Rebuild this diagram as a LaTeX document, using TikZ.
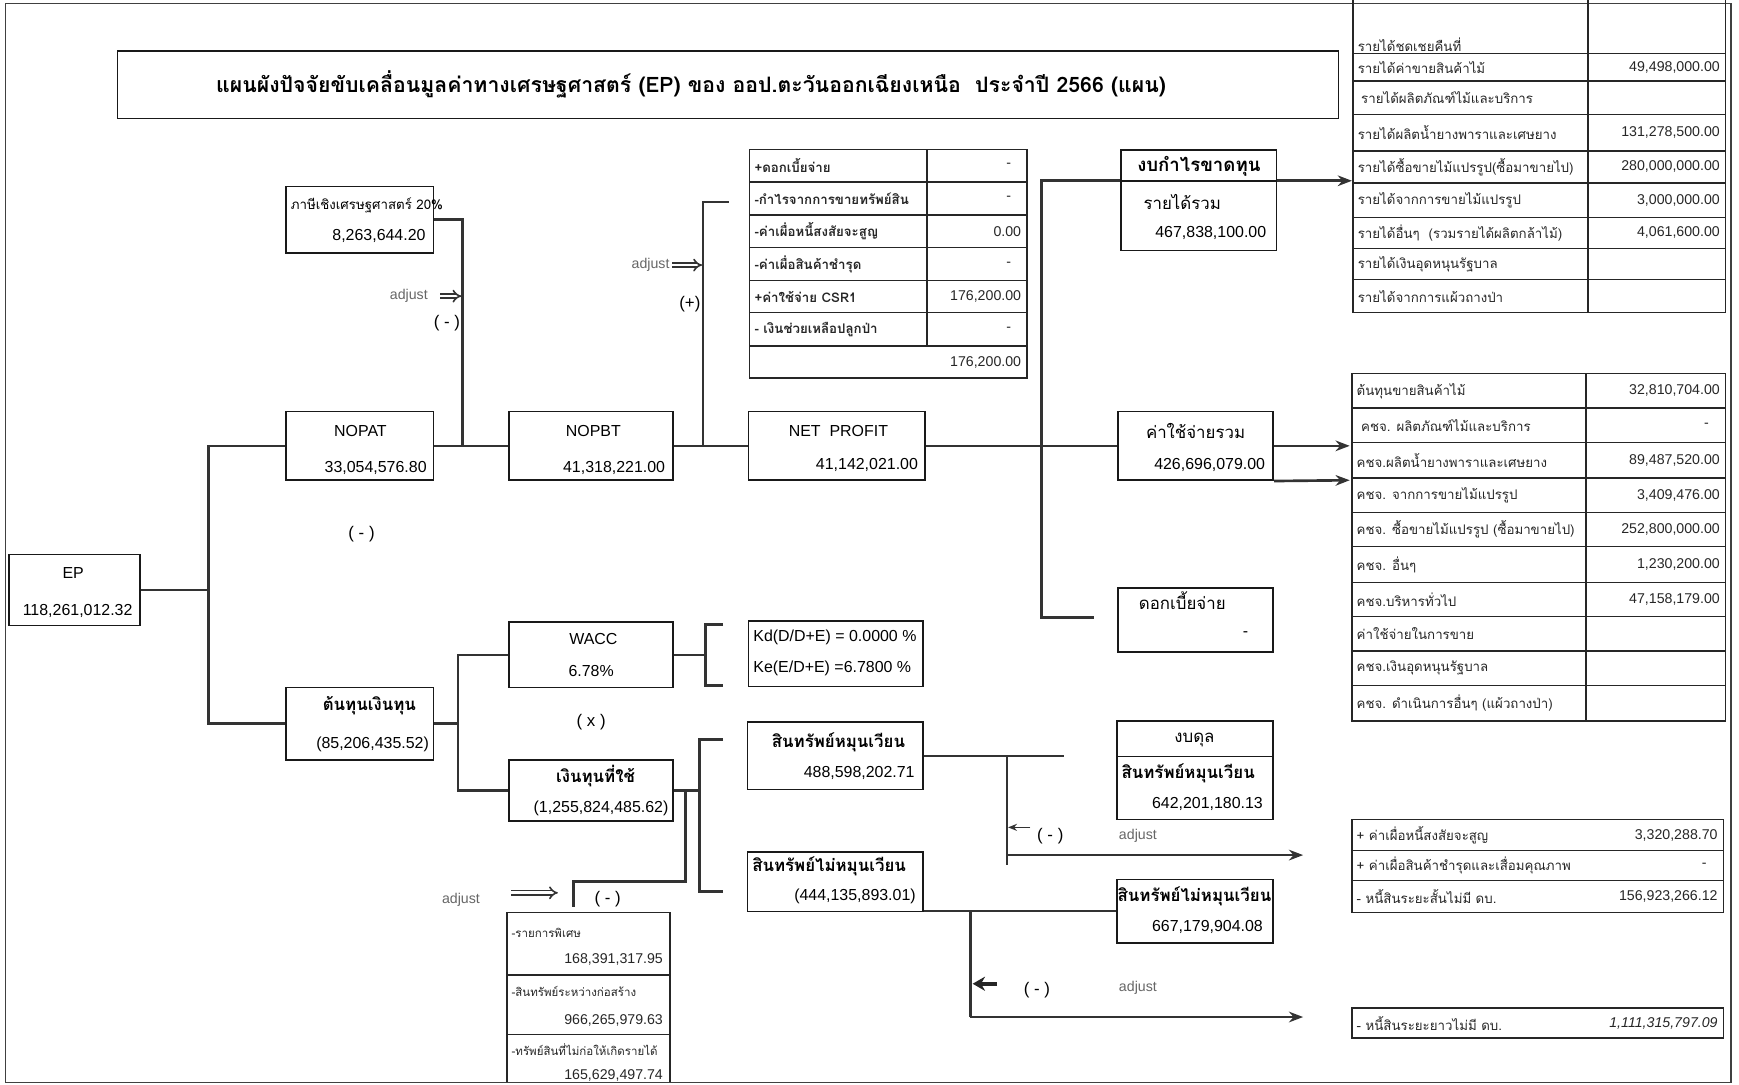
\documentclass[tikz,border=0pt]{standalone}
\usepackage{fontspec}
\setmainfont{Liberation Sans}
\newfontfamily\thaifont[Script=Thai]{Loma}
\usetikzlibrary{arrows.meta,fit}
\tikzset{
	frame/.style={line width=0.9pt, black!75},
	box/.style={draw, line width=0.9pt, inner sep=0pt, black!90},
	wire/.style={line width=1.5pt, black!80},
	arr/.style={wire, -{Stealth[length=8pt,width=6pt]}},
	adj/.style={draw=black!80, double, double distance=1.5pt, line width=0.9pt, -{Implies}},
	tabline/.style={line width=0.8pt, black!85},
	txt/.style={inner sep=0pt, font=\fontsize{9}{10}\selectfont},
	thr/.style={inner sep=0pt, font=\thaifont\fontsize{9.5}{11}\selectfont},
	thb/.style={inner sep=0pt, font=\thaifont\bfseries\fontsize{9.5}{11}\selectfont},
	cell/.style={inner sep=0pt, anchor=west, black!85, font=\thaifont\fontsize{7.5}{9}\selectfont},
	val/.style={inner sep=0pt, anchor=east, black!85, font=\fontsize{8}{9}\selectfont},
	adjtxt/.style={inner sep=0pt, black!60, font=\fontsize{8}{9}\selectfont},
	sign/.style={inner sep=0pt, font=\fontsize{9.5}{10}\selectfont}
}

\begin{document}
\begin{tikzpicture}[x=0.022cm, y=-0.022cm]
		%%%%% START %%%%%
		\useasboundingbox (0,0) rectangle (1568,978);
		\draw[frame] (5,3) rectangle (1561,976);
		
		% title
		\node[box, fit={(106,46) (1207,107)}] (titlebox) {};
		\node[inner sep=0pt, font=\thaifont\bfseries\fontsize{12}{14}\selectfont] (title) at (623,76) {แผนผังปัจจัยขับเคลื่อนมูลค่าทางเศรษฐศาสตร์ (EP) ของ ออป.ตะวันออกเฉียงเหนือ\ \ ประจำปี 2566 (แผน)};
		
		% EP and first split
		\node[box, fit={(8,500) (126,564)}] (ep) {};
		\node[txt] (epT) at (66,517) {EP};
		\node[txt] (epV) at (70,551) {118,261,012.32};
		
		\node[box, fit={(258,168) (391,228)}] (tax) {};
		\node[inner sep=0pt, anchor=west, font=\thaifont\fontsize{7.5}{9}\selectfont] (taxT) at (262,185) {ภาษีเชิงเศรษฐศาสตร์ 20\%};
		\node[txt, anchor=east] (taxV) at (384,213) {8,263,644.20};
		
		\node[box, fit={(258,371) (391,433)}] (nopat) {};
		\node[txt] (nopatT) at (325,389) {NOPAT};
		\node[txt, anchor=east] (nopatV) at (385,422) {33,054,576.80};
		
		\node[sign] (minusA) at (326,482) {( - )};
		
		\node[box, fit={(258,620) (391,685)}] (coc) {};
		\node[thb] (cocT) at (333,636) {ต้นทุนเงินทุน};
		\node[txt, anchor=east] (cocV) at (387,671) {(85,206,435.52)};
		
		\coordinate (jep) at (188,532);
		\draw[wire] (ep.east) -- (jep);
		\draw[wire] (nopat.west) -| (jep) |- (coc.west);
		
		% tax into NOPAT
		\coordinate (jtax) at (417,402);
		\draw[wire] (tax.east) -| (jtax);
		\node[adjtxt, anchor=east] (adjA) at (386,267) {adjust};
		\coordinate (adjA1) at (397,267);
		\coordinate (adjA2) at (416,267);
		\draw[adj] (adjA1) -- (adjA2);
		\node[sign] (minusB) at (403,291) {( - )};
		
		% NOPBT and NET PROFIT
		\node[box, fit={(459,371) (607,433)}] (nopbt) {};
		\node[txt] (nopbtT) at (535,389) {NOPBT};
		\node[txt, anchor=east] (nopbtV) at (600,422) {41,318,221.00};
		\draw[wire] (nopat.east) -- (nopbt.west);
		
		\node[box, fit={(675,371) (834,433)}] (netp) {};
		\node[txt] (netpT) at (756,389) {NET\ \ PROFIT};
		\node[txt, anchor=east] (netpV) at (828,419) {41,142,021.00};
		\draw[wire] (nopbt.east) -- (netp.west);
		
		\coordinate (jadd) at (634,402);
		\coordinate (addtop) at (657,182);
		\draw[wire] (addtop) -| (jadd);
		\node[adjtxt, anchor=east] (adjB) at (604,239) {adjust};
		\coordinate (adjB1) at (606,239);
		\coordinate (adjB2) at (633,239);
		\draw[adj] (adjB1) -- (adjB2);
		\node[sign] (plusA) at (622,274) {(+)};
		
		% adjustment table above NET PROFIT
		\draw[tabline] (676,135) rectangle (926,341);
		\draw[tabline] (836,135) -- (836,312);
		\draw[tabline] (676,164) -- (926,164) (676,194) -- (926,194) (676,223) -- (926,223)
			(676,253) -- (926,253) (676,282) -- (926,282) (676,312) -- (926,312);
		\node[cell, font=\thaifont\bfseries\fontsize{7.5}{9}\selectfont] (ad1) at (680,149.5) {+ดอกเบี้ยจ่าย};
		\node[cell, font=\thaifont\bfseries\fontsize{7.5}{9}\selectfont] (ad2) at (680,179) {-กำไรจากการขายทรัพย์สิน};
		\node[cell, font=\thaifont\bfseries\fontsize{7.5}{9}\selectfont] (ad3) at (680,208.5) {-ค่าเผื่อหนี้สงสัยจะสูญ};
		\node[cell, font=\thaifont\bfseries\fontsize{7.5}{9}\selectfont] (ad4) at (680,238) {-ค่าเผื่อสินค้าชำรุด};
		\node[cell, font=\thaifont\bfseries\fontsize{7.5}{9}\selectfont] (ad5) at (680,267.5) {+ค่าใช้จ่าย CSR1};
		\node[cell, font=\thaifont\bfseries\fontsize{7.5}{9}\selectfont] (ad6) at (680,297) {- เงินช่วยเหลือปลูกป่า};
		\node[val] (ad1v) at (912,149.5) {-};
		\node[val] (ad2v) at (912,179) {-};
		\node[val] (ad3v) at (921,208.5) {0.00};
		\node[val] (ad4v) at (912,238) {-};
		\node[val] (ad5v) at (921,267.5) {176,200.00};
		\node[val] (ad6v) at (912,297) {-};
		\node[val] (ad7v) at (921,326.5) {176,200.00};
		
		% profit and loss side
		\node[box, fit={(1011,135) (1151,226)}] (pl) {};
		\coordinate (pldiv) at (1081,163);
		\draw[box] (pl.west |- pldiv) -- (pl.east |- pldiv);
		\node[thb, font=\thaifont\bfseries\fontsize{10.5}{12}\selectfont] (plT) at (1081,150) {งบกำไรขาดทุน};
		\node[thr] (plR) at (1066,182) {รายได้รวม};
		\node[txt, anchor=east] (plV) at (1142,210) {467,838,100.00};
		
		\node[box, fit={(1008,371) (1148,433)}] (exp) {};
		\node[thr] (expT) at (1078,389) {ค่าใช้จ่ายรวม};
		\node[txt, anchor=east] (expV) at (1141,419) {426,696,079.00};
		
		\node[box, fit={(1008,530) (1148,588)}] (int) {};
		\node[thr] (intT) at (1066,542) {ดอกเบี้ยจ่าย};
		\node[txt] (intV) at (1123,572) {-};
		
		\coordinate (jnet) at (939,402);
		\coordinate (intstub) at (986,557);
		\draw[wire] (netp.east) -- (exp.west);
		\draw[wire] (pl.west |- pldiv) -| (jnet |- intstub) -- (intstub);
		
		\coordinate (revin) at (1219,163);
		\coordinate (expinA) at (1217,402);
		\coordinate (expinB) at (1217,433);
		\draw[arr] (pl.east |- pldiv) -- (revin);
		\draw[arr] (exp.east) -- (expinA);
		\draw[arr] (exp.south east) -- (expinB);
		
		% revenue table
		\draw[tabline] (1220,0) -- (1220,282) (1432,0) -- (1432,282) (1556,0) -- (1556,282);
		\draw[tabline] (1220,48) -- (1556,48) (1220,73) -- (1556,73) (1220,103) -- (1556,103)
			(1220,136) -- (1556,136) (1220,165) -- (1556,165) (1220,196) -- (1556,196)
			(1220,224) -- (1556,224) (1220,252) -- (1556,252) (1220,282) -- (1556,282);
		\node[cell] (rv0) at (1224,40) {รายได้ชดเชยคืนที่};
		\node[cell] (rv1) at (1224,60.5) {รายได้ค่าขายสินค้าไม้};
		\node[cell] (rv2) at (1227,88) {รายได้ผลิตภัณฑ์ไม้และบริการ};
		\node[cell] (rv3) at (1224,119.5) {รายได้ผลิตน้ำยางพาราและเศษยาง};
		\node[cell] (rv4) at (1224,150.5) {รายได้ซื้อขายไม้แปรรูป(ซื้อมาขายไป)};
		\node[cell] (rv5) at (1224,180.5) {รายได้จากการขายไม้แปรรูป};
		\node[cell] (rv6) at (1224,210) {รายได้อื่นๆ\ \ (รวมรายได้ผลิตกล้าไม้)};
		\node[cell] (rv7) at (1224,238) {รายได้เงินอุดหนุนรัฐบาล};
		\node[cell] (rv8) at (1224,267) {รายได้จากการแผ้วถางป่า};
		\node[val] (rv1v) at (1551,60.5) {49,498,000.00};
		\node[val] (rv3v) at (1551,119.5) {131,278,500.00};
		\node[val] (rv4v) at (1551,150.5) {280,000,000.00};
		\node[val] (rv5v) at (1551,180.5) {3,000,000.00};
		\node[val] (rv6v) at (1551,210) {4,061,600.00};
		
		% expense table
		\draw[tabline] (1219,337) rectangle (1556,650);
		\draw[tabline] (1430,337) -- (1430,650);
		\draw[tabline] (1219,368) -- (1556,368) (1219,399) -- (1556,399) (1219,431) -- (1556,431)
			(1219,462) -- (1556,462) (1219,493) -- (1556,493) (1219,525) -- (1556,525)
			(1219,556) -- (1556,556) (1219,587) -- (1556,587) (1219,618) -- (1556,618);
		\node[cell] (ex1) at (1223,352.5) {ต้นทุนขายสินค้าไม้};
		\node[cell] (ex2) at (1227,383.5) {คชจ. ผลิตภัณฑ์ไม้และบริการ};
		\node[cell] (ex3) at (1223,415) {คชจ.ผลิตน้ำยางพาราและเศษยาง};
		\node[cell] (ex4) at (1223,446.5) {คชจ. จากการขายไม้แปรรูป};
		\node[cell] (ex5) at (1223,477.5) {คชจ. ซื้อขายไม้แปรรูป (ซื้อมาขายไป)};
		\node[cell] (ex6) at (1223,509) {คชจ. อื่นๆ};
		\node[cell] (ex7) at (1223,540.5) {คชจ.บริหารทั่วไป};
		\node[cell] (ex8) at (1223,571.5) {ค่าใช้จ่ายในการขาย};
		\node[cell] (ex9) at (1223,602.5) {คชจ.เงินอุดหนุนรัฐบาล};
		\node[cell] (ex10) at (1223,634) {คชจ. ดำเนินการอื่นๆ (แผ้วถางป่า)};
		\node[val] (ex1v) at (1551,352.5) {32,810,704.00};
		\node[val] (ex2v) at (1541,383.5) {-};
		\node[val] (ex3v) at (1551,415) {89,487,520.00};
		\node[val] (ex4v) at (1551,446.5) {3,409,476.00};
		\node[val] (ex5v) at (1551,477.5) {252,800,000.00};
		\node[val] (ex6v) at (1551,509) {1,230,200.00};
		\node[val] (ex7v) at (1551,540.5) {47,158,179.00};
		
		% WACC branch
		\node[box, fit={(459,561) (607,620)}] (wacc) {};
		\node[txt] (waccT) at (535,576) {WACC};
		\node[txt] (waccV) at (533,605) {6.78\%};
		\node[sign] (timesA) at (533,651) {( x )};
		
		\node[box, fit={(459,685) (607,740)}] (inv) {};
		\node[thb] (invT) at (537,700) {เงินทุนที่ใช้};
		\node[txt, anchor=east] (invV) at (603,729) {(1,255,824,485.62)};
		
		\coordinate (jcoc) at (413,652.5);
		\draw[wire] (coc.east) -- (jcoc);
		\draw[wire] (wacc.west) -| (jcoc) |- (inv.west);
		
		\node[box, fit={(675,560) (832,619)}] (kd) {};
		\node[txt, anchor=west] (kdT) at (679,575) {Kd(D/D+E) = 0.0000 \%};
		\node[txt, anchor=west] (keT) at (679,603) {Ke(E/D+E) =6.7800 \%};
		\coordinate (jw) at (636,590.5);
		\coordinate (kdtop) at (652,563);
		\coordinate (kdbot) at (652,618);
		\draw[wire] (wacc.east) -- (jw);
		\draw[wire] (kdtop) -| (jw |- kdbot) -- (kdbot);
		
		% invested capital split
		\node[box, fit={(674,651) (832,712)}] (ca) {};
		\node[thb] (caT) at (756,669) {สินทรัพย์หมุนเวียน};
		\node[txt, anchor=east] (caV) at (825,697) {488,598,202.71};
		
		\node[box, fit={(674,768) (832,822)}] (nca) {};
		\node[thb, anchor=west] (ncaT) at (678,781) {สินทรัพย์ไม่หมุนเวียน};
		\node[txt, anchor=east] (ncaV) at (826,808) {(444,135,893.01)};
		
		\coordinate (jinv) at (631,712.5);
		\coordinate (castub) at (652,667);
		\coordinate (ncastub) at (652,804);
		\draw[wire] (inv.east) -- (jinv);
		\draw[wire] (castub) -| (jinv |- ncastub) -- (ncastub);
		
		\coordinate (jsub) at (618,712.5);
		\coordinate (subend) at (517,818);
		\draw[wire] (jsub) -- ++(0,82.5) -| (subend);
		\node[adjtxt, anchor=east] (adjC) at (433,811) {adjust};
		\coordinate (adjC1) at (461,805);
		\coordinate (adjC2) at (503,805);
		\draw[adj] (adjC1) -- (adjC2);
		\node[sign] (minusC) at (548,811) {( - )};
		
		% special items table
		\draw[tabline] (457,976) -- (457,823) -- (604,823) -- (604,976);
		\draw[tabline] (457,879) -- (604,879) (457,933) -- (604,933);
		\node[cell, font=\thaifont\fontsize{6.5}{8}\selectfont] (sp1) at (461,841.5) {-รายการพิเศษ};
		\node[cell, font=\thaifont\fontsize{6.5}{8}\selectfont] (sp2) at (461,894) {-สินทรัพย์ระหว่างก่อสร้าง};
		\node[cell, font=\thaifont\fontsize{6.5}{8}\selectfont] (sp3) at (461,946) {-ทรัพย์สินที่ไม่ก่อให้เกิดรายได้};
		\node[val] (sp1v) at (598,865.5) {168,391,317.95};
		\node[val] (sp2v) at (598,920) {966,265,979.63};
		\node[val] (sp3v) at (598,970) {165,629,497.74};
		
		% balance sheet side
		\node[box, fit={(1007,650) (1148,739)}] (bs) {};
		\coordinate (bsdiv) at (1077,682);
		\draw[box] (bs.west |- bsdiv) -- (bs.east |- bsdiv);
		\node[thr] (bsT) at (1077,667) {งบดุล};
		\node[thb, anchor=west] (bsA) at (1011,697) {สินทรัพย์หมุนเวียน};
		\node[txt, anchor=east] (bsV) at (1139,725) {642,201,180.13};
		
		\node[box, fit={(1007,793) (1148,850)}] (ncb) {};
		\node[thb] (ncbT) at (1077,808) {สินทรัพย์ไม่หมุนเวียน};
		\node[txt, anchor=east] (ncbV) at (1139,836) {667,179,904.08};
		
		\coordinate (jca) at (908,681.5);
		\coordinate (caend) at (959,681.5);
		\coordinate (caout) at (1175,771);
		\draw[wire] (ca.east) -- (caend);
		\draw[wire] (jca) -- ++(0,98.5);
		\draw[arr] (jca |- caout) -- (caout);
		\coordinate (smA1) at (929,746);
		\coordinate (smA2) at (909,746);
		\draw[line width=0.8pt, black!80, -{Stealth[length=5pt,width=4pt]}] (smA1) -- (smA2);
		\node[sign] (minusD) at (947,754) {( - )};
		\node[adjtxt] (adjD) at (1026,754) {adjust};
		
		\coordinate (jnc) at (875,821.5);
		\coordinate (ncout) at (1175,917);
		\draw[wire] (nca.east |- jnc) -- (ncb.west |- jnc);
		\draw[wire] (jnc) -- (jnc |- ncout);
		\draw[arr] (jnc |- ncout) -- (ncout);
		\coordinate (bgA1) at (899,887);
		\coordinate (bgA2) at (877,887);
		\draw[line width=2pt, black!85, -{Stealth[length=7pt,width=8pt]}] (bgA1) -- (bgA2);
		\node[sign] (minusE) at (935,893) {( - )};
		\node[adjtxt] (adjE) at (1026,891) {adjust};
		
		% current adjustments
		\draw[tabline] (1219,739) rectangle (1554,823);
		\draw[tabline] (1219,767) -- (1554,767) (1219,794) -- (1554,794);
		\node[cell] (cj1) at (1223,753) {+ ค่าเผื่อหนี้สงสัยจะสูญ};
		\node[cell] (cj2) at (1223,780.5) {+ ค่าเผื่อสินค้าชำรุดและเสื่อมคุณภาพ};
		\node[cell] (cj3) at (1223,808.5) {- หนี้สินระยะสั้นไม่มี ดบ.};
		\node[val] (cj1v) at (1549,753) {3,320,288.70};
		\node[val] (cj2v) at (1539,780.5) {-};
		\node[val] (cj3v) at (1549,808.5) {156,923,266.12};
		
		\draw[tabline] (1219,909) rectangle (1554,936);
		\node[cell] (lt1) at (1223,922.5) {- หนี้สินระยะยาวไม่มี ดบ.};
		\node[val, font=\itshape\fontsize{8}{9}\selectfont] (lt1v) at (1549,922.5) {1,111,315,797.09};
		
		%%%%% END %%%%%
\end{tikzpicture}
\end{document}
